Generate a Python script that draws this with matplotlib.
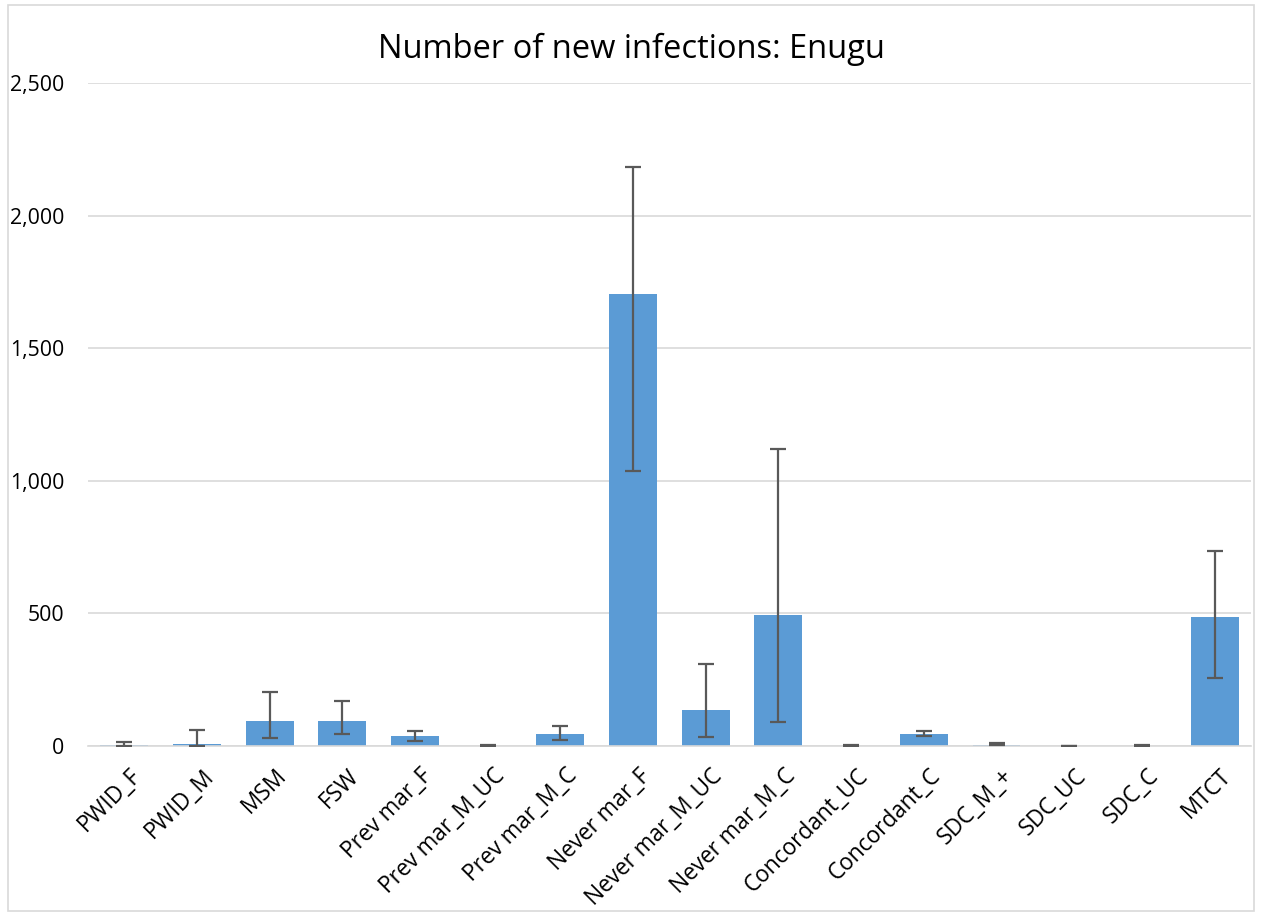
import matplotlib.pyplot as plt
import matplotlib.ticker as mticker
import matplotlib.transforms as mtransforms
import numpy as np

plt.rcParams['font.family'] = ['Open Sans', 'DejaVu Sans']

groups = ['PWID_F', 'PWID_M', 'MSM', 'FSW', 'Prev mar_F', 'Prev mar_M_UC',
          'Prev mar_M_C', 'Never mar_F', 'Never mar_M_UC', 'Never mar_M_C',
          'Concordant_UC', 'Concordant_C', 'SDC_M_+', 'SDC_UC', 'SDC_C', 'MTCT']
infections = [3, 8, 94, 93, 37, 1, 45, 1706, 136, 494, 1, 46, 5, 0, 1, 487]
lower = [0, 0, 29, 45, 20, 0, 22, 1038, 35, 92, 0, 39, 3, 0, 0, 255]
upper = [15, 60, 205, 169, 57, 2, 77, 2185, 309, 1121, 2, 58, 12, 1, 2, 736]

vals = np.array(infections)
yerr = [vals - np.array(lower), np.array(upper) - vals]

fig = plt.figure(figsize=(12.62, 9.16), dpi=100)
ax = fig.add_axes([0.0697, 0.1856, 0.9215, 0.7238])

x = np.arange(len(groups))
ax.bar(x, vals, width=0.66, color='#5B9BD5', zorder=2)
ax.errorbar(x, vals, yerr=yerr, fmt='none', ecolor='#595959', elinewidth=1.6,
            capsize=6, capthick=1.6, zorder=3)

ax.set_xlim(-0.5, len(groups) - 0.5)
ax.set_ylim(0, 2500)
ax.yaxis.set_major_locator(mticker.MultipleLocator(500))
ax.yaxis.set_major_formatter(mticker.StrMethodFormatter('{x:,.0f}'))
ax.grid(axis='y', color='#D9D9D9', linewidth=1.2, zorder=0)
ax.set_axisbelow(True)

for s in ['top', 'right', 'left']:
    ax.spines[s].set_visible(False)
ax.spines['bottom'].set_color('#D9D9D9')
ax.spines['bottom'].set_linewidth(1.2)

ax.set_xticks(x)
ax.set_xticklabels(groups, rotation=45, ha='right', rotation_mode='anchor', fontsize=16.3)
ax.tick_params(axis='y', length=0, labelsize=15.3, colors='black', pad=17)
ax.tick_params(axis='x', length=0, colors='black', pad=13)

# nudge rotated labels slightly right, like the original
offset = mtransforms.ScaledTranslation(5 / 100, 0, fig.dpi_scale_trans)
for lbl in ax.get_xticklabels():
    lbl.set_transform(lbl.get_transform() + offset)

fig.text(0.5, 0.946, 'Number of new infections: Enugu', ha='center', va='center', fontsize=23.5)

border = plt.Rectangle((0.006, 0.005), 0.988, 0.989, transform=fig.transFigure,
                       fill=False, edgecolor='#D9D9D9', linewidth=1.2)
fig.patches.append(border)

fig.savefig('out.png', dpi=100, facecolor='white')
